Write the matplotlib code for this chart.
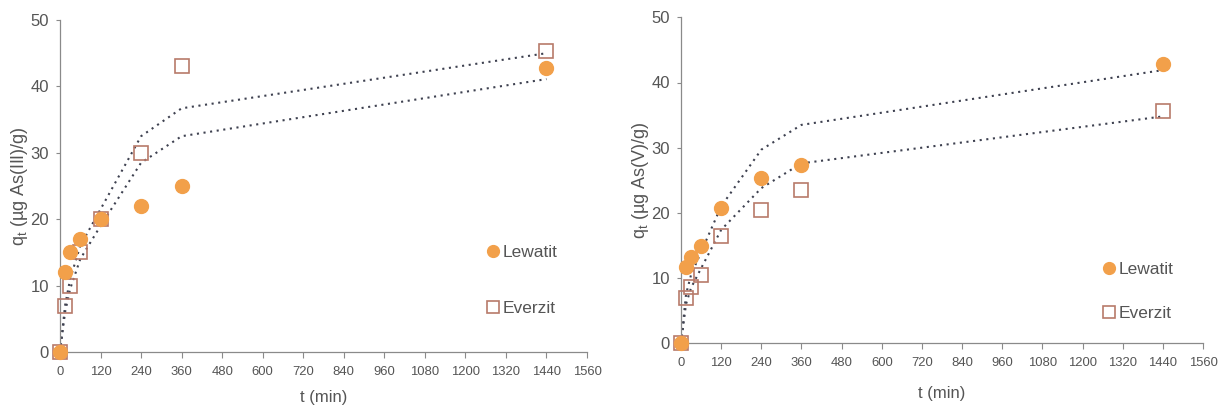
import matplotlib
matplotlib.use("Agg")
import matplotlib.pyplot as plt

plt.rcParams['font.family'] = ['Liberation Sans', 'DejaVu Sans']

# ---- data ----
t = [0, 15, 30, 60, 120, 240, 360, 1440]

# As(III)
lew3 = [0, 12, 15, 17, 20, 22, 25, 42.8]
eve3 = [0, 7, 10, 15, 20, 30, 43, 45.3]
fit3_upper = [0, 7, 11, 16, 21.5, 32.5, 36.7, 45.0]
fit3_lower = [0, 6, 9.5, 14, 19, 28.5, 32.5, 41.1]

# As(V)
lew5 = [0, 11.7, 13.3, 14.9, 20.7, 25.3, 27.4, 42.9]
eve5 = [0, 6.9, 8.7, 10.5, 16.5, 20.4, 23.5, 35.6]
fit5_upper = [0, 7.5, 10.5, 14.0, 21.0, 29.7, 33.5, 41.9]
fit5_lower = [0, 6.0, 8.5, 11.5, 17.4, 23.8, 27.6, 34.8]

xticks = list(range(0, 1561, 120))
yticks = [0, 10, 20, 30, 40, 50]
series_names = ["Lewatit", "Everzit"]
ylabels = ["q$_\\mathregular{t}$ (µg As(III)/g)", "q$_\\mathregular{t}$ (µg As(V)/g)"]
xlabel = "t (min)"

ORANGE = "#F2A04A"
SQ_EDGE = "#B87A6A"
LINE = "#3E4150"
AX = "#8A8A8A"
TXT = "#555555"

fig = plt.figure(figsize=(12.22, 4.09), dpi=100)
fig.patch.set_facecolor("white")

axes_rects = [
    [60/1222, (409-352)/409, 527/1222, 332/409],
    [681/1222, (409-343.3)/409, 522/1222, 326/409],
]
datasets = [
    (lew3, eve3, fit3_upper, fit3_lower),
    (lew5, eve5, fit5_upper, fit5_lower),
]
legend_locs = [(0.875, 0.215), (0.875, 0.16)]
legend_spacing = [2.35, 1.65]
xlabel_pads = [8.5, 12]

for i, (rect, (lew, eve, fu, fl)) in enumerate(zip(axes_rects, datasets)):
    ax = fig.add_axes(rect)
    ax.plot(t, fu, linestyle=(0, (1, 2.2)), color=LINE, lw=1.5, zorder=2)
    ax.plot(t, fl, linestyle=(0, (1, 2.2)), color=LINE, lw=1.5, zorder=2)
    ax.plot(t, eve, linestyle="none", marker="s", markersize=9.5,
            markerfacecolor="none", markeredgecolor=SQ_EDGE, markeredgewidth=1.2,
            label=series_names[1], zorder=3, clip_on=False)
    ax.plot(t, lew, linestyle="none", marker="o", markersize=10,
            markerfacecolor=ORANGE, markeredgecolor=ORANGE,
            label=series_names[0], zorder=4, clip_on=False)
    ax.set_xlim(0, 1560)
    ax.set_ylim(0, 50)
    ax.set_xticks(xticks)
    ax.set_yticks(yticks)
    for s in ["top", "right"]:
        ax.spines[s].set_visible(False)
    for s in ["left", "bottom"]:
        ax.spines[s].set_color(AX)
        ax.spines[s].set_linewidth(0.9)
    ax.tick_params(axis="x", direction="out", length=4, color=AX,
                   labelsize=9.4, labelcolor=TXT, pad=6)
    ax.tick_params(axis="y", direction="out", length=3, color=AX,
                   labelsize=12, labelcolor=TXT, pad=5)
    ax.set_xlabel(xlabel, fontsize=12, color=TXT, labelpad=xlabel_pads[i])
    ax.set_ylabel(ylabels[i], fontsize=13, color=TXT, labelpad=0)
    handles, labels = ax.get_legend_handles_labels()
    order = [1, 0]
    leg = ax.legend([handles[j] for j in order], [labels[j] for j in order],
                    loc="center", bbox_to_anchor=legend_locs[i],
                    frameon=False, fontsize=12.5, labelspacing=legend_spacing[i],
                    handletextpad=0.1, handlelength=0.9, markerscale=0.85)
    for txt in leg.get_texts():
        txt.set_color(TXT)

fig.savefig("out.png", dpi=100, facecolor="white")
